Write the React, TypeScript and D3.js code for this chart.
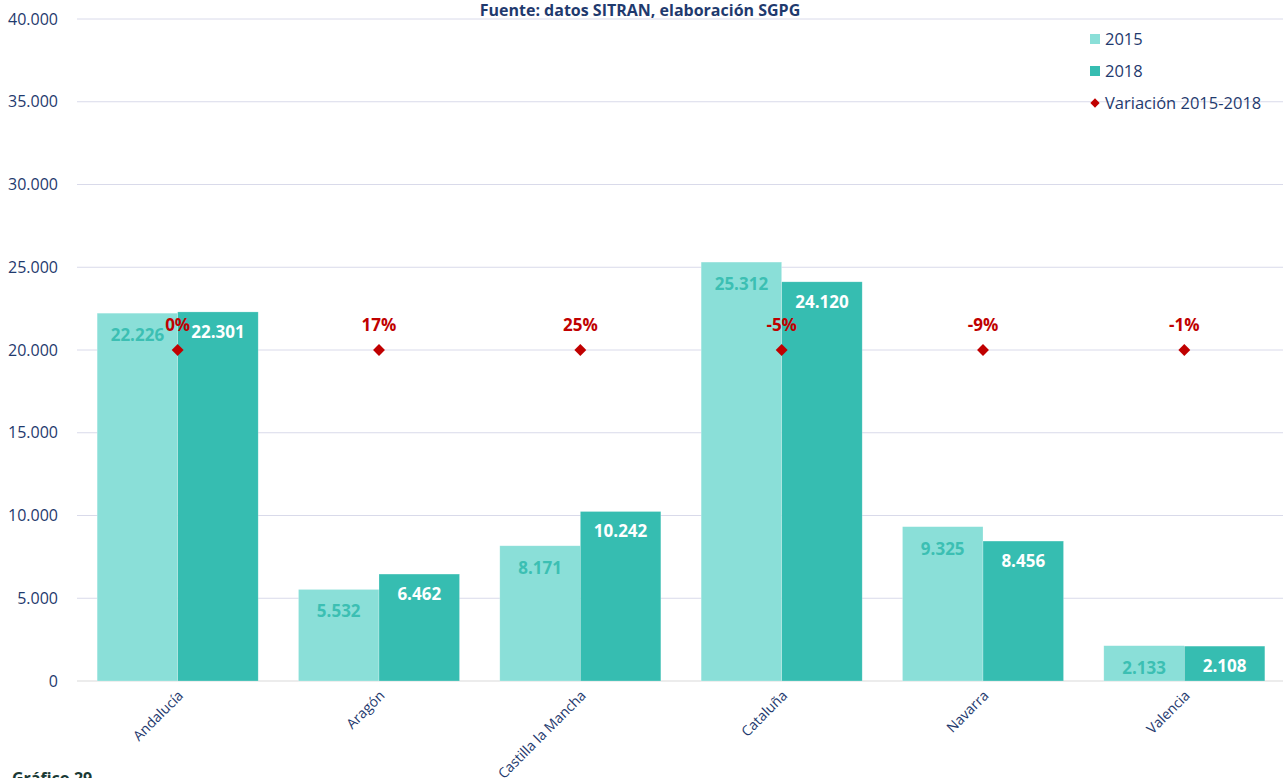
import React from 'react';
import * as d3 from 'd3';

const regions = ['Andalucía', 'Aragón', 'Castilla la Mancha', 'Cataluña', 'Navarra', 'Valencia'];
const values2015 = [22226, 5532, 8171, 25312, 9325, 2133];
const values2018 = [22301, 6462, 10242, 24120, 8456, 2108];
const variation = ['0%', '17%', '25%', '-5%', '-9%', '-1%'];
const variationLevel = 20000;
const yTicks = [0, 5000, 10000, 15000, 20000, 25000, 30000, 35000, 40000];
const seriesNames = ['2015', '2018'];

const W = 1283;
const H = 778;
const margin = { top: 19, right: -2, bottom: 97, left: 77 };
const c2015 = '#8ADFD8';
const c2018 = '#36BDB1';
const navy = '#1F3A6E';
const red = '#C00000';
const font = '"Open Sans", "Noto Sans", sans-serif';

const fmt = (v: number) => d3.format(',')(v).replace(/,/g, '.');

export default function App() {
  const x = d3.scaleBand<string>()
    .domain(regions)
    .range([margin.left, W - margin.right])
    .paddingInner(0.2)
    .paddingOuter(0.1);
  const sub = d3.scaleBand<string>().domain(seriesNames).range([0, x.bandwidth()]);
  const y = d3.scaleLinear().domain([0, 40000]).range([H - margin.bottom, margin.top]);
  const diamond = d3.symbol().type(d3.symbolDiamond2).size(90)() as string;
  const diamondSmall = d3.symbol().type(d3.symbolDiamond2).size(55)() as string;

  return (
    <svg width={W} height={H} style={{ position: 'absolute', left: 0, top: 0, fontFamily: font }}>
      <text x={640} y={16} textAnchor="middle" fontSize={16} fontWeight={700} fill={navy}>
        Fuente: datos SITRAN, elaboración SGPG
      </text>

      {yTicks.map((t) => (
        <g key={t}>
          <line x1={margin.left} x2={W} y1={y(t)} y2={y(t)}
            stroke={t === 0 ? '#D9D9D9' : '#D9DAEA'} strokeWidth={1} />
          <text x={58} y={y(t)} dy="0.35em" textAnchor="end" fontSize={16} fill={navy}>{fmt(t)}</text>
        </g>
      ))}

      {regions.map((r, i) => {
        const x0 = x(r) as number;
        const xa = x0 + (sub('2015') as number);
        const xb = x0 + (sub('2018') as number);
        const bw = sub.bandwidth();
        const cx = x0 + x.bandwidth() / 2;
        return (
          <g key={r}>
            <rect x={xa} y={y(values2015[i])} width={bw} height={y(0) - y(values2015[i])}
              fill={c2015} stroke="#ffffff" strokeOpacity={0.4} strokeWidth={0.6} />
            <rect x={xb} y={y(values2018[i])} width={bw} height={y(0) - y(values2018[i])}
              fill={c2018} stroke="#ffffff" strokeOpacity={0.4} strokeWidth={0.6} />
            <text x={xa + bw / 2} y={y(values2015[i]) + 22} dy="0.35em" textAnchor="middle"
              fontSize={17} fontWeight={700} fill="#3CBFB3">{fmt(values2015[i])}</text>
            <text x={xb + bw / 2} y={y(values2018[i]) + 20} dy="0.35em" textAnchor="middle"
              fontSize={17} fontWeight={700} fill="#ffffff">{fmt(values2018[i])}</text>
            <path d={diamond} transform={`translate(${cx},${y(variationLevel)})`} fill={red} />
            <text x={cx} y={y(variationLevel) - 25} dy="0.35em" textAnchor="middle"
              fontSize={17} fontWeight={700} fill={red}>{variation[i]}</text>
            <text transform={`translate(${cx + 3},${y(0) + 12}) rotate(-45)`} textAnchor="end"
              dy="0.35em" fontSize={14} fill={navy}>{r}</text>
          </g>
        );
      })}

      <g fontSize={16.5} fill={navy}>
        <rect x={1090} y={34} width={10} height={10} fill={c2015} />
        <text x={1105} y={39} dy="0.35em" fill={navy}>2015</text>
        <rect x={1090} y={66} width={10} height={10} fill={c2018} />
        <text x={1105} y={71} dy="0.35em" fill={navy}>2018</text>
        <path d={diamondSmall} transform="translate(1095,103)" fill={red} />
        <text x={1105} y={103} dy="0.35em" fill={navy}>Variación 2015-2018</text>
      </g>

      <text x={12} y={784} fontSize={16} fontWeight={700} fill="#1A3A35">Gráfico 29</text>
    </svg>
  );
}
